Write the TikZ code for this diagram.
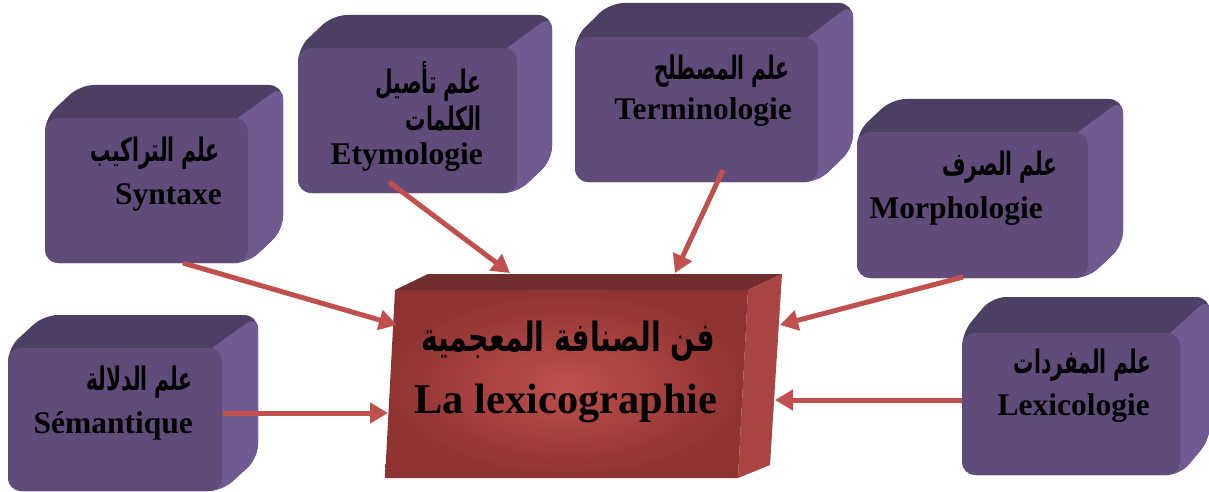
\documentclass[tikz,border=0pt]{standalone}
\usepackage{fontspec}
\setmainfont{Liberation Serif}
\newfontfamily\arabicfont[Script=Arabic]{DejaVu Sans}
\TeXXeTstate=1
\usetikzlibrary{arrows.meta}
\definecolor{pfront}{HTML}{604B7A}
\definecolor{ptop}{HTML}{4D3E63}
\definecolor{pright}{HTML}{705A91}
\definecolor{rtop}{HTML}{722E2E}
\definecolor{rright}{HTML}{A84543}
\definecolor{rin}{HTML}{C0504D}
\definecolor{rout}{HTML}{8E3331}
\definecolor{arrowc}{HTML}{C0504D}
\newcommand\artxt[1]{\scalebox{0.75}[1.2]{\beginR #1\endR}}
\newcommand\bigartxt[1]{\scalebox{0.81}[1.15]{\beginR #1\endR}}
\tikzset{
  lbl/.style={font=\fontsize{31.5}{36}\selectfont\bfseries, inner sep=0pt, anchor=base east},
  biglbl/.style={font=\fontsize{42.4}{48}\selectfont\bfseries, inner sep=0pt, anchor=base},
  arlbl/.style={font=\arabicfont\fontsize{27}{30}\selectfont\bfseries, inner sep=0pt, anchor=base east},
  bigar/.style={font=\arabicfont\fontsize{35}{40}\selectfont\bfseries, inner sep=0pt, anchor=base},
  conn/.style={draw=arrowc, line width=5pt, -{Triangle[length=18pt,width=20pt]}},
  face/.style={fill=pfront, rounded corners=13pt, draw=none, inner sep=0pt}
}
% #1 name, #2 x1, #3 y1, #4 x2, #5 y2, #6 dx, #7 dy
\newcommand\cubebox[7]{%
  \fill[ptop, rounded corners=14pt] (#2,#5) -- (#2,#3) -- (#2+#6,#3-#7) -- (#4+#6,#3-#7) -- (#4+#6,#5-#7) -- (#4,#5) -- cycle;
  \fill[pright] (#4-10,#3) [rounded corners=14pt] -- (#4+#6,#3-#7) -- (#4+#6,#5-#7) -- (#4,#5) [sharp corners] -- (#4-10,#5) -- cycle;
  \node[face, minimum width={#4-#2}, minimum height={#5-#3}] (#1) at ({(#2+#4)/2},{(#3+#5)/2}) {};
}
\begin{document}
\begin{tikzpicture}[x=1pt,y=-1pt]
\useasboundingbox (0,0) rectangle (1209,492);
\clip (0,0) rectangle (1209,492);
% purple boxes
\cubebox{syn}{45}{118}{248}{263}{35}{33}
\cubebox{ety}{298}{48}{517}{193}{35}{33}
\cubebox{ter}{575}{37}{818}{182}{35}{34}
\cubebox{mor}{857}{132}{1088}{278}{35}{33}
\cubebox{sem}{8}{348}{222}{491}{36}{33}
\cubebox{lexi}{962}{333}{1180}{475}{30}{36}
% central box
\fill[rtop] (395,290) -- (428,274) -- (782,274) -- (748,290) -- cycle;
\fill[rright] (748,290) -- (782,274) -- (770,465) -- (738,478) -- cycle;
\shade[inner color=rin, outer color=rout] (395,290) -- (748,290) -- (738,478) -- (385,478) -- cycle;
\node[inner sep=0pt, minimum width=350, minimum height=188] (lex) at (566,384) {};
% arrows
\coordinate (s1) at (183,263); \coordinate (e1) at (397,325);
\coordinate (s2) at (389,182); \coordinate (e2) at (510,273);
\coordinate (s3) at (723,170); \coordinate (e3) at (675,273);
\coordinate (s4) at (963,277); \coordinate (e4) at (780,325);
\coordinate (s5) at (223,413); \coordinate (e5) at (388,413);
\coordinate (s6) at (962,400); \coordinate (e6) at (775,400);
\draw[conn] (s1) -- (e1);
\draw[conn] (s2) -- (e2);
\draw[conn] (s3) -- (e3);
\draw[conn] (s4) -- (e4);
\draw[conn] (s5) -- (e5);
\draw[conn] (s6) -- (e6);
% labels
\node[arlbl] (synA) at (220,161) {\artxt{علم التراكيب}};
\node[lbl] (synB) at (222,204) {Syntaxe};
\node[arlbl] (etyA) at (482,94) {\artxt{علم تأصيل}};
\node[arlbl] (etyB) at (482,131) {\artxt{الكلمات}};
\node[lbl] (etyC) at (483,164) {Etymologie};
\node[arlbl] (terA) at (790,80) {\artxt{علم المصطلح}};
\node[lbl] (terB) at (792,120) {Terminologie};
\node[arlbl] (morA) at (1058,175) {\artxt{علم الصرف}};
\node[lbl] (morB) at (1043,218) {Morphologie};
\node[arlbl] (semA) at (193,390) {\artxt{علم الدلالة}};
\node[lbl] (semB) at (193,433) {Sémantique};
\node[arlbl] (lexiA) at (1152,373) {\artxt{علم المفردات}};
\node[lbl] (lexiB) at (1150,415) {Lexicologie};
\node[bigar] (lexA) at (568,351) {\bigartxt{فن الصنافة المعجمية}};
\node[biglbl] (lexB) at (566,413) {La lexicographie};
\end{tikzpicture}
\end{document}
